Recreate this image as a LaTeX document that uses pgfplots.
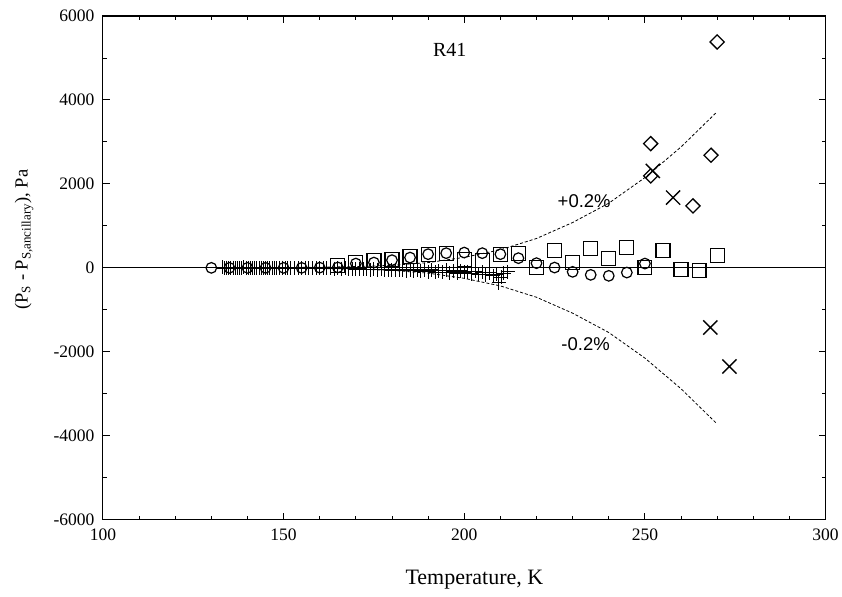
\documentclass[border=0pt]{standalone}
\usepackage{fontspec}
\setmainfont{Liberation Serif}
\newfontfamily\helv{Liberation Sans}
\usepackage{pgfplots}
\pgfplotsset{compat=1.18}
\begin{document}
\begin{tikzpicture}
\begin{axis}[
  scale only axis, width=723pt, height=504pt,
  xmin=100, xmax=300, ymin=-6000, ymax=6000,
  xtick={100,150,200,250,300}, xticklabels={100,150,200,250,300},
  minor x tick num=4,
  ytick={-6000,-4000,-2000,0,2000,4000,6000},
  yticklabels={-6000,-4000,-2000,0,2000,4000,6000},
  minor y tick num=1,
  tick align=inside, major tick length=7pt, minor tick length=4pt,
  tick style={black, line width=0.9pt},
  axis line style={line width=1.1pt},
  tick label style={font=\fontsize{17.5}{17.5}\selectfont},
  xticklabel style={yshift=-6pt},
  yticklabel style={xshift=-5pt},
  xlabel={Temperature, K},
  ylabel={(P\textsubscript{S} - P\textsubscript{S,ancillary}), Pa},
  xlabel style={font=\fontsize{22}{22}\selectfont, at={(axis description cs:0.514,-0.119)}, anchor=center},
  ylabel style={font=\fontsize{18.5}{18.5}\selectfont, at={(axis description cs:-0.109,0.556)}, anchor=center},
  clip=false,
]
% zero line
\addplot[black, line width=1pt] coordinates {(100,0) (300,0)};
% +/-0.2% bounds
\addplot[black, densely dashed, line width=0.8pt] coordinates {(140,4) (150,8) (160,15) (170,30) (180,60) (190,125) (200,250) (210,430) (220,700) (230,1080) (240,1540) (250,2150) (260,2880) (270,3720)};
\addplot[black, densely dashed, line width=0.8pt] coordinates {(140,-4) (150,-8) (160,-15) (170,-30) (180,-60) (190,-125) (200,-250) (210,-430) (220,-700) (230,-1080) (240,-1540) (250,-2150) (260,-2880) (270,-3720)};
% plus
\addplot[only marks, mark=+, mark size=7pt, mark options={line width=1pt}] coordinates {
(133.0,10) (133.6,-10) (134.2,5) (134.8,-5) (135.4,0) (136.0,8) (136.6,-8) (137.2,0) (137.8,5) (138.4,-5)
(139.0,10) (139.6,-10) (140.2,0) (140.8,5) (141.4,-5) (142.0,8) (142.6,-6) (143.2,0) (143.8,4) (144.4,-4)
(145.0,0) (145.6,6) (146.2,-6) (146.8,0) (147.4,5) (148.0,-5) (148.8,0) (149.6,4) (150.4,-4) (151.2,0)
(152.0,5) (153.0,-5) (154.0,0) (155.0,-8) (156.0,5) (157.0,-5) (158.0,-10) (159.0,0) (160.0,-12) (161.0,-5)
(162.0,-15) (163.0,-8) (164.0,-18) (165.0,-10) (166.0,-20) (167.0,-15) (168.0,-25) (169.0,-20) (170.0,-30) (171.0,-22)
(172.0,-35) (173.0,-28) (174.0,-40) (175.0,-30) (176.0,-45) (177.0,-35) (178.0,-50) (179.0,-40) (180.0,-55) (181.0,-45)
(182.0,-60) (183.0,-50) (184.0,-65) (185.0,-55) (186.0,-70) (187.0,-45) (188.0,-80) (189.0,-60) (190.0,-90) (191.0,-50)
(192.0,-100) (193.0,-70) (194.0,-110) (195.0,-60) (196.0,-120) (197.0,-80) (198.0,-130) (199.0,-70) (200.0,-110) (201.0,-90)
(202.0,-140) (203.0,-80) (204.0,-150) (205.0,-100) (206.0,-170) (207.0,-120) (208.0,-190) (209.0,-150) (209.6,-350) (210.2,-220)
(211.0,-130) (212.0,-90)};
% circles
\addplot[only marks, mark=o, mark size=5.3pt, mark options={line width=1.2pt, fill=white}] coordinates {
(130,0) (135,0) (140,0) (145,0) (150,0) (155,0) (160,5) (165,10) (170,102) (175,126) (180,183) (185,245) (190,326) (195,350) (200,364) (205,350) (210,326) (215,231) (220,112) (225,7) (230,-95) (235,-167) (240,-190) (245,-112) (250,102)};
% squares
\addplot[only marks, mark=square, mark size=7pt, mark options={line width=1.2pt}] coordinates {
(165,60) (170,126) (175,183) (180,207) (185,262) (190,326) (195,350) (200,200) (205,183) (210,326) (215,333) (220,0) (225,405) (230,119) (235,460) (240,214) (245,476) (250,7) (255,405) (260,-31) (265,-71) (270,302)};
% crosses
\addplot[only marks, mark=x, mark size=10pt, mark options={line width=1.4pt}] coordinates {
(252.2,2310) (257.8,1674) (268.1,-1421) (273.4,-2350)};
% diamonds
\addplot[only marks, mark=square, mark size=5pt, mark options={rotate=45, line width=1.3pt}] coordinates {
(270.0,5381) (251.6,2960) (251.6,2190) (268.3,2683) (263.3,1476)};
\node at (axis cs:196,5190) {\fontsize{20}{20}\selectfont R41};
\node at (axis cs:233.2,1595) {\helv\fontsize{18.5}{18.5}\selectfont +0.2\%};
\node at (axis cs:233.6,-1810) {\helv\fontsize{18.5}{18.5}\selectfont -0.2\%};
\end{axis}
\path (current axis.south west) ++(-103pt,-77pt) rectangle ++(842pt,597pt);
\end{tikzpicture}
\end{document}
